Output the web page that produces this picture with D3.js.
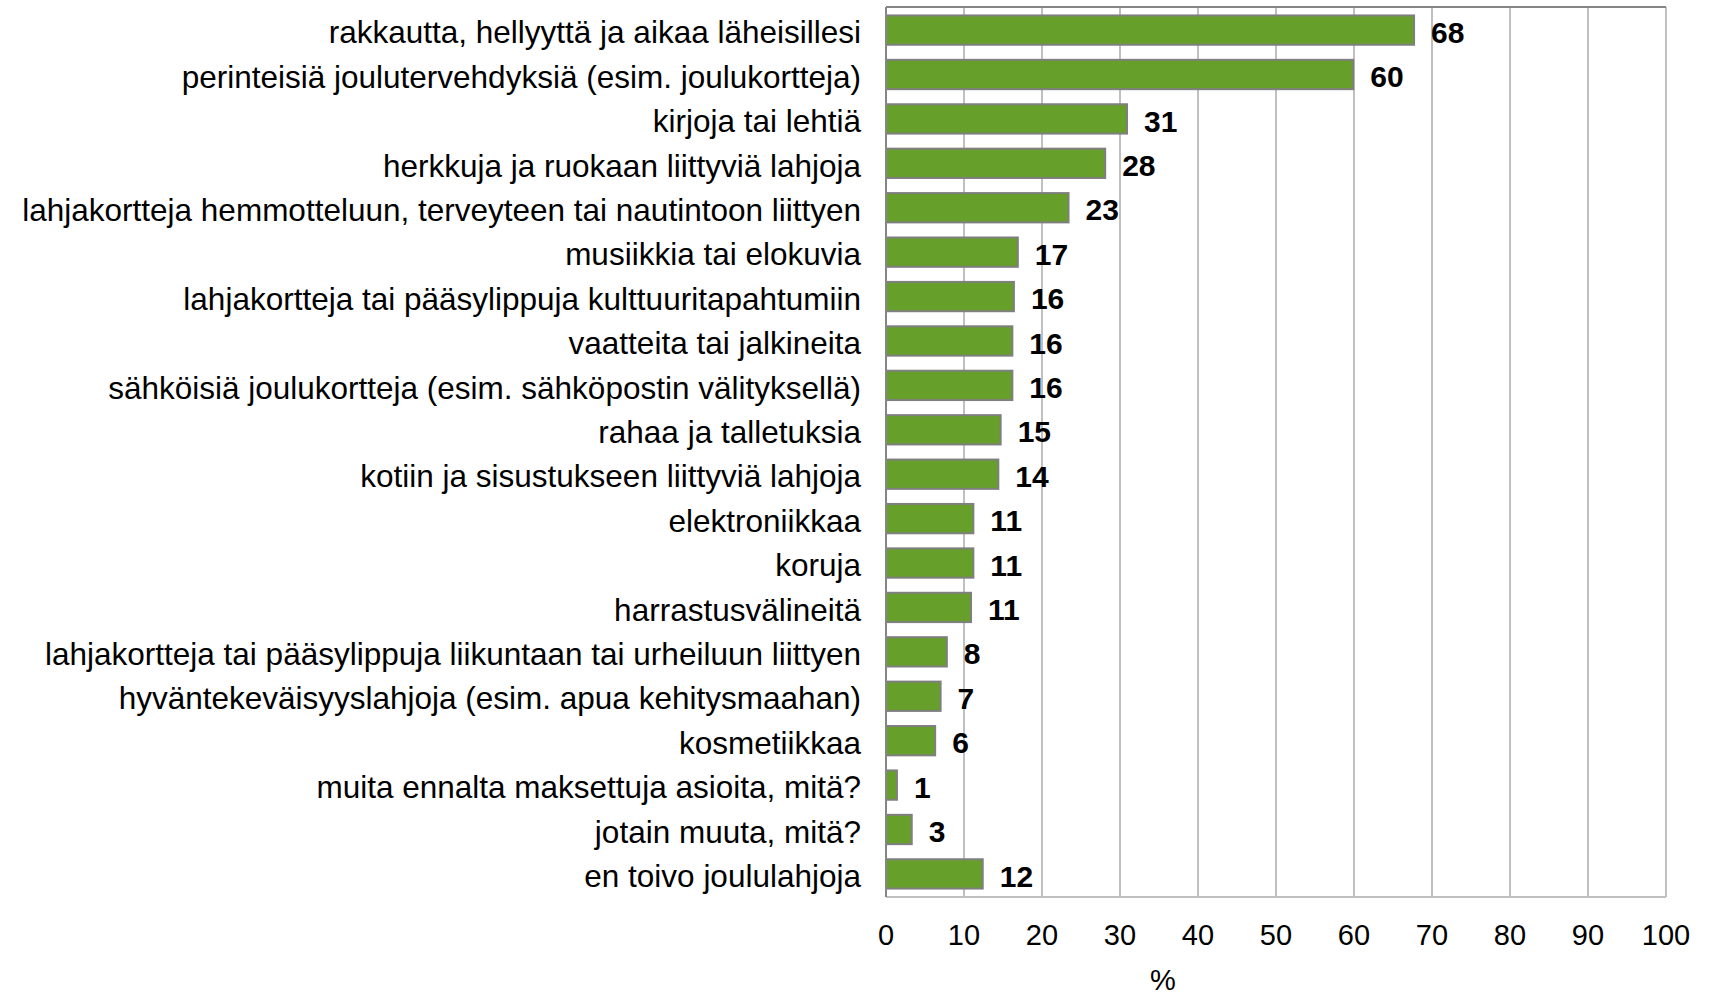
<!DOCTYPE html>
<html>
<head>
<meta charset="utf-8">
<script src="https://cdn.jsdelivr.net/npm/d3@7"></script>
<style>
  body { margin: 0; background: #fff; }
  text { font-family: "Liberation Sans", Arial, sans-serif; fill: #000; }
</style>
</head>
<body>
<script>
const categories = [
  "rakkautta, hellyyttä ja aikaa läheisillesi",
  "perinteisiä joulutervehdyksiä (esim. joulukortteja)",
  "kirjoja tai lehtiä",
  "herkkuja ja ruokaan liittyviä lahjoja",
  "lahjakortteja hemmotteluun, terveyteen tai nautintoon liittyen",
  "musiikkia tai elokuvia",
  "lahjakortteja tai pääsylippuja kulttuuritapahtumiin",
  "vaatteita tai jalkineita",
  "sähköisiä joulukortteja (esim. sähköpostin välityksellä)",
  "rahaa ja talletuksia",
  "kotiin ja sisustukseen liittyviä lahjoja",
  "elektroniikkaa",
  "koruja",
  "harrastusvälineitä",
  "lahjakortteja tai pääsylippuja liikuntaan tai urheiluun liittyen",
  "hyväntekeväisyyslahjoja (esim. apua kehitysmaahan)",
  "kosmetiikkaa",
  "muita ennalta maksettuja asioita, mitä?",
  "jotain muuta, mitä?",
  "en toivo joululahjoja"
];
const values = [67.7, 59.9, 30.9, 28.1, 23.4, 16.9, 16.4, 16.2, 16.2, 14.7,
                14.4, 11.2, 11.2, 10.9, 7.8, 7.0, 6.3, 1.4, 3.3, 12.4];
const xTicks = [0, 10, 20, 30, 40, 50, 60, 70, 80, 90, 100];
const axisTitle = "%";

const width = 1709;
const height = 995;
const margin = { top: 7, right: 43, bottom: 98, left: 886 };
const plotW = width - margin.left - margin.right;
const plotH = height - margin.top - margin.bottom;

const data = categories.map((c, i) => ({ name: c, value: values[i] }));

const svg = d3.select("body").append("svg")
  .attr("width", width)
  .attr("height", height);

const g = svg.append("g")
  .attr("transform", "translate(" + margin.left + "," + margin.top + ")");

const x = d3.scaleLinear().domain([0, 100]).range([0, plotW]);
const y = d3.scaleBand()
  .domain(categories)
  .range([0, plotH])
  .paddingInner(0.34)
  .paddingOuter(0.19);

// gridlines
g.selectAll(".grid")
  .data(xTicks.slice(1))
  .enter()
  .append("line")
  .attr("x1", (d) => x(d))
  .attr("x2", (d) => x(d))
  .attr("y1", 0)
  .attr("y2", plotH)
  .attr("stroke", "#c0c0c0")
  .attr("stroke-width", 2);

// bottom and top frame lines
g.append("line")
  .attr("x1", 0).attr("x2", plotW)
  .attr("y1", plotH).attr("y2", plotH)
  .attr("stroke", "#c0c0c0").attr("stroke-width", 2);
g.append("line")
  .attr("x1", 0).attr("x2", plotW)
  .attr("y1", 0).attr("y2", 0)
  .attr("stroke", "#868686").attr("stroke-width", 2);

// bars
g.selectAll(".bar")
  .data(data)
  .enter()
  .append("rect")
  .attr("class", "bar")
  .attr("x", 0)
  .attr("y", (d) => y(d.name))
  .attr("width", (d) => x(d.value))
  .attr("height", y.bandwidth())
  .attr("fill", "#669f2a")
  .attr("stroke", "#7f7f7f")
  .attr("stroke-width", 2);

// value labels
g.selectAll(".val")
  .data(data)
  .enter()
  .append("text")
  .attr("x", (d) => x(d.value) + 17)
  .attr("y", (d) => y(d.name) + y.bandwidth() / 2)
  .attr("dy", "0.42em")
  .style("font-size", "30px")
  .style("font-weight", "bold")
  .text((d) => d3.format(".0f")(d.value));

// left axis line
g.append("line")
  .attr("x1", 0).attr("x2", 0)
  .attr("y1", 0).attr("y2", plotH)
  .attr("stroke", "#868686").attr("stroke-width", 2);

// category labels
g.selectAll(".cat")
  .data(categories)
  .enter()
  .append("text")
  .attr("x", -25)
  .attr("y", (d) => y(d) + y.bandwidth() / 2)
  .attr("dy", "0.42em")
  .attr("text-anchor", "end")
  .style("font-size", "31.5px")
  .text((d) => d);

// x tick labels
g.selectAll(".tick-label")
  .data(xTicks)
  .enter()
  .append("text")
  .attr("x", (d) => x(d))
  .attr("y", plotH + 48)
  .attr("text-anchor", "middle")
  .style("font-size", "29px")
  .text((d) => d);

g.append("text")
  .attr("x", x(35.5))
  .attr("y", plotH + 93)
  .attr("text-anchor", "middle")
  .style("font-size", "29px")
  .text(axisTitle);
</script>
</body>
</html>
